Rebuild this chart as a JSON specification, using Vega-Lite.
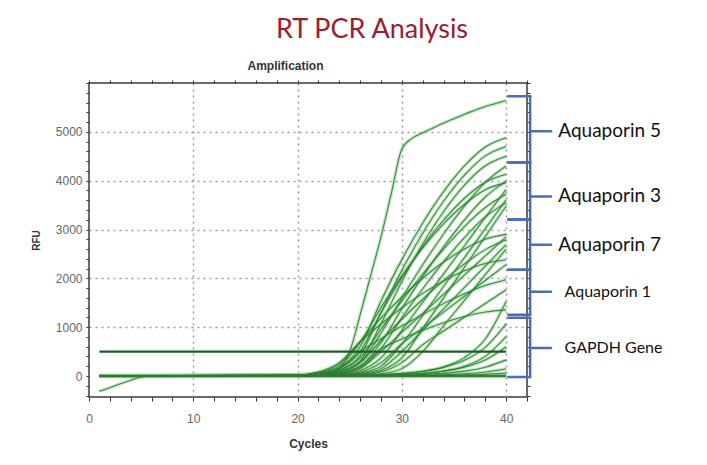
{
  "$schema": "https://vega.github.io/schema/vega-lite/v6.json",
  "width": 438,
  "height": 314,
  "autosize": {"type": "none"},
  "padding": {"left": 89, "top": 83, "right": 180, "bottom": 68},
  "background": "white",
  "title": {"text": "RT PCR Analysis", "font": "Lato", "fontSize": 27, "fontWeight": "normal", "color": "#9b1c31", "anchor": "middle", "frame": "group", "dx": 64, "offset": 15},
  "config": {"view": {"stroke": "#3a3a3a", "strokeWidth": 1.5}},
  "data": {"values": [
    {"s":"S","x":1,"y":0},{"s":"S","x":20,"y":0},{"s":"S","x":21,"y":5},{"s":"S","x":22,"y":10},{"s":"S","x":23,"y":40},{"s":"S","x":24,"y":150},{"s":"S","x":25,"y":500},{"s":"S","x":26,"y":1250},{"s":"S","x":27,"y":2050},{"s":"S","x":28,"y":2850},{"s":"S","x":29,"y":3750},{"s":"S","x":30,"y":4650},{"s":"S","x":31,"y":4870},{"s":"S","x":32,"y":4980},{"s":"S","x":33,"y":5080},{"s":"S","x":34,"y":5180},{"s":"S","x":35,"y":5270},{"s":"S","x":36,"y":5360},{"s":"S","x":37,"y":5440},{"s":"S","x":38,"y":5520},{"s":"S","x":39,"y":5580},{"s":"S","x":40,"y":5640},
    {"s":"A1","x":1,"y":0},{"s":"A1","x":20,"y":15},{"s":"A1","x":22,"y":51},{"s":"A1","x":24,"y":170},{"s":"A1","x":26,"y":598},{"s":"A1","x":28,"y":1534},{"s":"A1","x":30,"y":2383},{"s":"A1","x":32,"y":3132},{"s":"A1","x":34,"y":3776},{"s":"A1","x":36,"y":4302},{"s":"A1","x":38,"y":4689},{"s":"A1","x":40,"y":4880},
    {"s":"A2","x":1,"y":0},{"s":"A2","x":20,"y":11},{"s":"A2","x":22,"y":38},{"s":"A2","x":24,"y":126},{"s":"A2","x":26,"y":418},{"s":"A2","x":28,"y":1302},{"s":"A2","x":30,"y":2163},{"s":"A2","x":32,"y":2923},{"s":"A2","x":34,"y":3579},{"s":"A2","x":36,"y":4112},{"s":"A2","x":38,"y":4507},{"s":"A2","x":40,"y":4700},
    {"s":"A3","x":1,"y":0},{"s":"A3","x":20,"y":8},{"s":"A3","x":22,"y":28},{"s":"A3","x":24,"y":93},{"s":"A3","x":26,"y":309},{"s":"A3","x":28,"y":1068},{"s":"A3","x":30,"y":1936},{"s":"A3","x":32,"y":2704},{"s":"A3","x":34,"y":3364},{"s":"A3","x":36,"y":3908},{"s":"A3","x":38,"y":4304},{"s":"A3","x":40,"y":4500},
    {"s":"A4","x":1,"y":0},{"s":"A4","x":20,"y":7},{"s":"A4","x":22,"y":25},{"s":"A4","x":24,"y":83},{"s":"A4","x":26,"y":274},{"s":"A4","x":28,"y":876},{"s":"A4","x":30,"y":1598},{"s":"A4","x":32,"y":2278},{"s":"A4","x":34,"y":2909},{"s":"A4","x":36,"y":3479},{"s":"A4","x":38,"y":3966},{"s":"A4","x":40,"y":4300},
    {"s":"B1","x":1,"y":0},{"s":"B1","x":20,"y":14},{"s":"B1","x":22,"y":45},{"s":"B1","x":24,"y":151},{"s":"B1","x":26,"y":500},{"s":"B1","x":28,"y":1295},{"s":"B1","x":30,"y":2014},{"s":"B1","x":32,"y":2649},{"s":"B1","x":34,"y":3190},{"s":"B1","x":36,"y":3640},{"s":"B1","x":38,"y":3967},{"s":"B1","x":40,"y":4130},
    {"s":"B2","x":1,"y":0},{"s":"B2","x":20,"y":5},{"s":"B2","x":22,"y":18},{"s":"B2","x":24,"y":61},{"s":"B2","x":26,"y":203},{"s":"B2","x":28,"y":681},{"s":"B2","x":30,"y":1379},{"s":"B2","x":32,"y":2036},{"s":"B2","x":34,"y":2646},{"s":"B2","x":36,"y":3198},{"s":"B2","x":38,"y":3665},{"s":"B2","x":40,"y":3990},
    {"s":"B3","x":1,"y":0},{"s":"B3","x":20,"y":18},{"s":"B3","x":22,"y":61},{"s":"B3","x":24,"y":203},{"s":"B3","x":26,"y":687},{"s":"B3","x":28,"y":1403},{"s":"B3","x":30,"y":2050},{"s":"B3","x":32,"y":2624},{"s":"B3","x":34,"y":3116},{"s":"B3","x":36,"y":3517},{"s":"B3","x":38,"y":3815},{"s":"B3","x":40,"y":3960},
    {"s":"B4","x":1,"y":0},{"s":"B4","x":20,"y":3},{"s":"B4","x":22,"y":10},{"s":"B4","x":24,"y":34},{"s":"B4","x":26,"y":112},{"s":"B4","x":28,"y":370},{"s":"B4","x":30,"y":933},{"s":"B4","x":32,"y":1511},{"s":"B4","x":34,"y":2090},{"s":"B4","x":36,"y":2667},{"s":"B4","x":38,"y":3245},{"s":"B4","x":40,"y":3820},
    {"s":"B5","x":1,"y":0},{"s":"B5","x":20,"y":10},{"s":"B5","x":22,"y":34},{"s":"B5","x":24,"y":112},{"s":"B5","x":26,"y":370},{"s":"B5","x":28,"y":957},{"s":"B5","x":30,"y":1540},{"s":"B5","x":32,"y":2087},{"s":"B5","x":34,"y":2599},{"s":"B5","x":36,"y":3060},{"s":"B5","x":38,"y":3450},{"s":"B5","x":40,"y":3720},
    {"s":"B6","x":1,"y":0},{"s":"B6","x":20,"y":2},{"s":"B6","x":22,"y":5},{"s":"B6","x":24,"y":18},{"s":"B6","x":26,"y":61},{"s":"B6","x":28,"y":203},{"s":"B6","x":30,"y":648},{"s":"B6","x":32,"y":1240},{"s":"B6","x":34,"y":1833},{"s":"B6","x":36,"y":2425},{"s":"B6","x":38,"y":3017},{"s":"B6","x":40,"y":3610},
    {"s":"B7","x":1,"y":0},{"s":"B7","x":20,"y":4},{"s":"B7","x":22,"y":15},{"s":"B7","x":24,"y":51},{"s":"B7","x":26,"y":170},{"s":"B7","x":28,"y":564},{"s":"B7","x":30,"y":1195},{"s":"B7","x":32,"y":1787},{"s":"B7","x":34,"y":2336},{"s":"B7","x":36,"y":2836},{"s":"B7","x":38,"y":3257},{"s":"B7","x":40,"y":3550},
    {"s":"B8","x":1,"y":0},{"s":"B8","x":20,"y":1},{"s":"B8","x":22,"y":3},{"s":"B8","x":24,"y":10},{"s":"B8","x":26,"y":34},{"s":"B8","x":28,"y":112},{"s":"B8","x":30,"y":370},{"s":"B8","x":32,"y":971},{"s":"B8","x":34,"y":1599},{"s":"B8","x":36,"y":2227},{"s":"B8","x":38,"y":2855},{"s":"B8","x":40,"y":3480},
    {"s":"C1","x":1,"y":0},{"s":"C1","x":20,"y":22},{"s":"C1","x":22,"y":73},{"s":"C1","x":24,"y":243},{"s":"C1","x":26,"y":704},{"s":"C1","x":28,"y":1184},{"s":"C1","x":30,"y":1618},{"s":"C1","x":32,"y":2002},{"s":"C1","x":34,"y":2334},{"s":"C1","x":36,"y":2602},{"s":"C1","x":38,"y":2802},{"s":"C1","x":40,"y":2900},
    {"s":"C2","x":1,"y":0},{"s":"C2","x":20,"y":4},{"s":"C2","x":22,"y":14},{"s":"C2","x":24,"y":45},{"s":"C2","x":26,"y":151},{"s":"C2","x":28,"y":500},{"s":"C2","x":30,"y":892},{"s":"C2","x":32,"y":1283},{"s":"C2","x":34,"y":1675},{"s":"C2","x":36,"y":2067},{"s":"C2","x":38,"y":2458},{"s":"C2","x":40,"y":2850},
    {"s":"C3","x":1,"y":0},{"s":"C3","x":20,"y":7},{"s":"C3","x":22,"y":25},{"s":"C3","x":24,"y":83},{"s":"C3","x":26,"y":274},{"s":"C3","x":28,"y":727},{"s":"C3","x":30,"y":1162},{"s":"C3","x":32,"y":1572},{"s":"C3","x":34,"y":1952},{"s":"C3","x":36,"y":2295},{"s":"C3","x":38,"y":2588},{"s":"C3","x":40,"y":2790},
    {"s":"C4","x":1,"y":0},{"s":"C4","x":20,"y":0},{"s":"C4","x":22,"y":4},{"s":"C4","x":24,"y":14},{"s":"C4","x":26,"y":45},{"s":"C4","x":28,"y":151},{"s":"C4","x":30,"y":500},{"s":"C4","x":32,"y":938},{"s":"C4","x":34,"y":1376},{"s":"C4","x":36,"y":1814},{"s":"C4","x":38,"y":2252},{"s":"C4","x":40,"y":2690},
    {"s":"C5","x":1,"y":0},{"s":"C5","x":20,"y":0},{"s":"C5","x":22,"y":1},{"s":"C5","x":24,"y":4},{"s":"C5","x":26,"y":14},{"s":"C5","x":28,"y":45},{"s":"C5","x":30,"y":151},{"s":"C5","x":32,"y":500},{"s":"C5","x":34,"y":1025},{"s":"C5","x":36,"y":1550},{"s":"C5","x":38,"y":2075},{"s":"C5","x":40,"y":2600},
    {"s":"C6","x":1,"y":0},{"s":"C6","x":20,"y":25},{"s":"C6","x":22,"y":83},{"s":"C6","x":24,"y":274},{"s":"C6","x":26,"y":697},{"s":"C6","x":28,"y":1064},{"s":"C6","x":30,"y":1397},{"s":"C6","x":32,"y":1692},{"s":"C6","x":34,"y":1946},{"s":"C6","x":36,"y":2153},{"s":"C6","x":38,"y":2305},{"s":"C6","x":40,"y":2380},
    {"s":"C7","x":1,"y":0},{"s":"C7","x":20,"y":1},{"s":"C7","x":22,"y":7},{"s":"C7","x":24,"y":25},{"s":"C7","x":26,"y":83},{"s":"C7","x":28,"y":274},{"s":"C7","x":30,"y":662},{"s":"C7","x":32,"y":985},{"s":"C7","x":34,"y":1309},{"s":"C7","x":36,"y":1633},{"s":"C7","x":38,"y":1956},{"s":"C7","x":40,"y":2280},
    {"s":"D1","x":1,"y":0},{"s":"D1","x":20,"y":14},{"s":"D1","x":22,"y":45},{"s":"D1","x":24,"y":151},{"s":"D1","x":26,"y":500},{"s":"D1","x":28,"y":766},{"s":"D1","x":30,"y":1022},{"s":"D1","x":32,"y":1260},{"s":"D1","x":34,"y":1482},{"s":"D1","x":36,"y":1682},{"s":"D1","x":38,"y":1852},{"s":"D1","x":40,"y":1970},
    {"s":"D2","x":1,"y":0},{"s":"D2","x":20,"y":0},{"s":"D2","x":22,"y":2},{"s":"D2","x":24,"y":7},{"s":"D2","x":26,"y":25},{"s":"D2","x":28,"y":83},{"s":"D2","x":30,"y":274},{"s":"D2","x":32,"y":641},{"s":"D2","x":34,"y":922},{"s":"D2","x":36,"y":1203},{"s":"D2","x":38,"y":1484},{"s":"D2","x":40,"y":1765},
    {"s":"D3","x":1,"y":0},{"s":"D3","x":20,"y":1},{"s":"D3","x":22,"y":3},{"s":"D3","x":24,"y":6},{"s":"D3","x":26,"y":11},{"s":"D3","x":28,"y":23},{"s":"D3","x":30,"y":46},{"s":"D3","x":32,"y":93},{"s":"D3","x":34,"y":187},{"s":"D3","x":36,"y":376},{"s":"D3","x":38,"y":757},{"s":"D3","x":40,"y":1525},
    {"s":"D4","x":1,"y":0},{"s":"D4","x":20,"y":5},{"s":"D4","x":22,"y":18},{"s":"D4","x":24,"y":61},{"s":"D4","x":26,"y":203},{"s":"D4","x":28,"y":554},{"s":"D4","x":30,"y":757},{"s":"D4","x":32,"y":936},{"s":"D4","x":34,"y":1090},{"s":"D4","x":36,"y":1217},{"s":"D4","x":38,"y":1309},{"s":"D4","x":40,"y":1355},
    {"s":"E1","x":1,"y":0},{"s":"E1","x":20,"y":3},{"s":"E1","x":22,"y":5},{"s":"E1","x":24,"y":9},{"s":"E1","x":26,"y":16},{"s":"E1","x":28,"y":29},{"s":"E1","x":30,"y":53},{"s":"E1","x":32,"y":97},{"s":"E1","x":34,"y":176},{"s":"E1","x":36,"y":321},{"s":"E1","x":38,"y":586},{"s":"E1","x":40,"y":1068},
    {"s":"E2","x":1,"y":0},{"s":"E2","x":20,"y":0},{"s":"E2","x":22,"y":1},{"s":"E2","x":24,"y":3},{"s":"E2","x":26,"y":6},{"s":"E2","x":28,"y":12},{"s":"E2","x":30,"y":24},{"s":"E2","x":32,"y":49},{"s":"E2","x":34,"y":99},{"s":"E2","x":36,"y":199},{"s":"E2","x":38,"y":401},{"s":"E2","x":40,"y":807},
    {"s":"E3","x":1,"y":0},{"s":"E3","x":20,"y":1},{"s":"E3","x":22,"y":3},{"s":"E3","x":24,"y":5},{"s":"E3","x":26,"y":9},{"s":"E3","x":28,"y":16},{"s":"E3","x":30,"y":30},{"s":"E3","x":32,"y":54},{"s":"E3","x":34,"y":99},{"s":"E3","x":36,"y":181},{"s":"E3","x":38,"y":329},{"s":"E3","x":40,"y":600},
    {"s":"E4","x":1,"y":0},{"s":"E4","x":20,"y":1},{"s":"E4","x":22,"y":1},{"s":"E4","x":24,"y":3},{"s":"E4","x":26,"y":5},{"s":"E4","x":28,"y":9},{"s":"E4","x":30,"y":16},{"s":"E4","x":32,"y":30},{"s":"E4","x":34,"y":54},{"s":"E4","x":36,"y":99},{"s":"E4","x":38,"y":181},{"s":"E4","x":40,"y":330},
    {"s":"E5","x":1,"y":0},{"s":"E5","x":20,"y":0},{"s":"E5","x":22,"y":0},{"s":"E5","x":24,"y":1},{"s":"E5","x":26,"y":2},{"s":"E5","x":28,"y":4},{"s":"E5","x":30,"y":7},{"s":"E5","x":32,"y":14},{"s":"E5","x":34,"y":25},{"s":"E5","x":36,"y":45},{"s":"E5","x":38,"y":82},{"s":"E5","x":40,"y":150},
    {"s":"E6","x":1,"y":0},{"s":"E6","x":20,"y":0},{"s":"E6","x":22,"y":0},{"s":"E6","x":24,"y":0},{"s":"E6","x":26,"y":1},{"s":"E6","x":28,"y":2},{"s":"E6","x":30,"y":3},{"s":"E6","x":32,"y":5},{"s":"E6","x":34,"y":10},{"s":"E6","x":36,"y":18},{"s":"E6","x":38,"y":33},{"s":"E6","x":40,"y":60},
    {"s":"F1","x":1,"y":0},{"s":"F1","x":40,"y":0},
    {"s":"F2","x":1,"y":15},{"s":"F2","x":40,"y":15},
    {"s":"F3","x":1,"y":-12},{"s":"F3","x":40,"y":-8},
    {"s":"N","x":1,"y":-310},{"s":"N","x":2,"y":-240},{"s":"N","x":3,"y":-160},{"s":"N","x":4,"y":-85},{"s":"N","x":5,"y":-20},{"s":"N","x":6,"y":0},{"s":"N","x":40,"y":0}
  ]},
  "layer": [
    {
      "mark": {"type": "line", "interpolate": "monotone", "stroke": "#8fd48f", "strokeWidth": 3.5, "opacity": 0.5},
      "encoding": {
        "x": {"field": "x", "type": "quantitative", "scale": {"domain": [0, 42], "nice": false, "zero": false},
          "axis": {"orient": "top", "values": [0,2,4,6,8,10,12,14,16,18,20,22,24,26,28,30,32,34,36,38,40,42], "labels": false, "grid": false, "domain": false, "tickSize": 3, "tickColor": "#333", "title": "Amplification", "titleFont": "Liberation Sans", "titleFontSize": 12, "titleFontWeight": "bold", "titleColor": "#333", "titleX": 196, "titleY": -18, "titleBaseline": "middle"}},
        "y": {"field": "y", "type": "quantitative", "scale": {"domain": [-430, 6000], "nice": false, "zero": false},
          "axis": {"orient": "right", "values": [-400,-200,0,200,400,600,800,1000,1200,1400,1600,1800,2000,2200,2400,2600,2800,3000,3200,3400,3600,3800,4000,4200,4400,4600,4800,5000,5200,5400,5600,5800,6000], "labels": false, "grid": false, "domain": false, "tickSize": 3, "tickColor": "#333", "title": null}},
        "detail": {"field": "s"}
      }
    },
    {
      "mark": {"type": "line", "interpolate": "monotone", "stroke": "#2e7d32", "strokeWidth": 1.1, "opacity": 0.9},
      "encoding": {
        "x": {"field": "x", "type": "quantitative", "scale": {"domain": [0, 42], "nice": false, "zero": false},
          "axis": {"orient": "bottom", "values": [0,2,4,6,8,10,12,14,16,18,20,22,24,26,28,30,32,34,36,38,40,42], "format": "d", "labelExpr": "datum.value % 10 === 0 ? datum.label : ''", "labelOverlap": false, "labelFlush": false, "labelFont": "'Liberation Sans Narrow', 'Liberation Sans', sans-serif", "labelFontSize": 12, "labelColor": "#666", "labelPadding": 12, "tickSize": 4, "tickColor": "#333", "domain": false, "grid": true, "gridDash": [2, 4], "gridColor": "#9a9a9a", "gridWidth": 1.5, "gridOpacity": {"condition": {"test": "datum.value % 10 === 0 && datum.value > 0 && datum.value < 42", "value": 1}, "value": 0}, "title": "Cycles", "titleFont": "Liberation Sans", "titleFontSize": 12, "titleFontWeight": "bold", "titleColor": "#333", "titlePadding": 14}},
        "y": {"field": "y", "type": "quantitative", "scale": {"domain": [-430, 6000], "nice": false, "zero": false},
          "axis": {"orient": "left", "values": [-400,-200,0,200,400,600,800,1000,1200,1400,1600,1800,2000,2200,2400,2600,2800,3000,3200,3400,3600,3800,4000,4200,4400,4600,4800,5000,5200,5400,5600,5800,6000], "format": "d", "labelExpr": "datum.value % 1000 === 0 && datum.value < 6000 ? datum.label : ''", "labelOverlap": false, "labelFlush": false, "labelFont": "'Liberation Sans Narrow', 'Liberation Sans', sans-serif", "labelFontSize": 12, "labelColor": "#666", "labelPadding": 4, "tickSize": 3, "tickColor": "#333", "domain": false, "grid": true, "gridDash": [2, 4], "gridColor": "#9a9a9a", "gridWidth": 1.5, "gridOpacity": {"condition": {"test": "datum.value % 1000 === 0 && datum.value > 0 && datum.value < 6000", "value": 1}, "value": 0}, "title": "RFU", "titleFont": "Liberation Sans", "titleFontSize": 10, "titleFontWeight": "bold", "titleColor": "#333", "titlePadding": 14}},
        "detail": {"field": "s"}
      }
    },
    {
      "data": {"values": [{"threshold": 500}]},
      "mark": {"type": "rule", "stroke": "#1e5e22", "strokeWidth": 2.4},
      "encoding": {
        "x": {"datum": 1, "type": "quantitative", "scale": {"domain": [0, 42], "nice": false, "zero": false}, "axis": null},
        "x2": {"datum": 40},
        "y": {"field": "threshold", "type": "quantitative", "scale": {"domain": [-430, 6000], "nice": false, "zero": false}, "axis": null}
      }
    },
    {
      "data": {"name": "braces", "values": [
        {"g": "Aquaporin 5", "lo": 4374, "hi": 5730, "mid": 5010},
        {"g": "Aquaporin 3", "lo": 3203, "hi": 4374, "mid": 3676},
        {"g": "Aquaporin 7", "lo": 2177, "hi": 3203, "mid": 2690},
        {"g": "Aquaporin 1", "lo": 1253, "hi": 2177, "mid": 1725},
        {"g": "GAPDH Gene", "lo": -20, "hi": 1191, "mid": 575}
      ]},
      "layer": [
        {
          "mark": {"type": "rule", "stroke": "#4a6db5", "strokeWidth": 2.5, "strokeCap": "round"},
          "encoding": {
            "x": {"datum": 42.3, "type": "quantitative", "scale": {"domain": [0, 42], "nice": false, "zero": false}, "axis": null},
            "y": {"field": "lo", "type": "quantitative", "scale": {"domain": [-430, 6000], "nice": false, "zero": false}, "axis": null},
            "y2": {"field": "hi"}
          }
        },
        {
          "mark": {"type": "rule", "stroke": "#4a6db5", "strokeWidth": 2.5, "strokeCap": "round"},
          "encoding": {
            "x": {"datum": 40.2, "type": "quantitative", "scale": {"domain": [0, 42], "nice": false, "zero": false}, "axis": null},
            "x2": {"datum": 42.3},
            "y": {"field": "hi", "type": "quantitative", "scale": {"domain": [-430, 6000], "nice": false, "zero": false}, "axis": null}
          }
        },
        {
          "mark": {"type": "rule", "stroke": "#4a6db5", "strokeWidth": 2.5, "strokeCap": "round"},
          "encoding": {
            "x": {"datum": 40.2, "type": "quantitative", "scale": {"domain": [0, 42], "nice": false, "zero": false}, "axis": null},
            "x2": {"datum": 42.3},
            "y": {"field": "lo", "type": "quantitative", "scale": {"domain": [-430, 6000], "nice": false, "zero": false}, "axis": null}
          }
        },
        {
          "mark": {"type": "rule", "stroke": "#4a6db5", "strokeWidth": 2.5, "strokeCap": "round"},
          "encoding": {
            "x": {"datum": 42.3, "type": "quantitative", "scale": {"domain": [0, 42], "nice": false, "zero": false}, "axis": null},
            "x2": {"datum": 44.3},
            "y": {"field": "mid", "type": "quantitative", "scale": {"domain": [-430, 6000], "nice": false, "zero": false}, "axis": null}
          }
        },
        {
          "transform": [{"filter": "datum.g === 'Aquaporin 5' || datum.g === 'Aquaporin 3' || datum.g === 'Aquaporin 7'"}],
          "mark": {"type": "text", "align": "left", "baseline": "middle", "font": "Lato", "fontSize": 19, "color": "#111111"},
          "encoding": {
            "x": {"datum": 45.0, "type": "quantitative", "scale": {"domain": [0, 42], "nice": false, "zero": false}, "axis": null},
            "y": {"field": "mid", "type": "quantitative", "scale": {"domain": [-430, 6000], "nice": false, "zero": false}, "axis": null},
            "text": {"field": "g"}
          }
        },
        {
          "transform": [{"filter": "datum.g === 'Aquaporin 1' || datum.g === 'GAPDH Gene'"}],
          "mark": {"type": "text", "align": "left", "baseline": "middle", "font": "Lato", "fontSize": 16, "color": "#111111"},
          "encoding": {
            "x": {"datum": 45.6, "type": "quantitative", "scale": {"domain": [0, 42], "nice": false, "zero": false}, "axis": null},
            "y": {"field": "mid", "type": "quantitative", "scale": {"domain": [-430, 6000], "nice": false, "zero": false}, "axis": null},
            "text": {"field": "g"}
          }
        }
      ]
    }
  ],
  "resolve": {"axis": {"x": "independent", "y": "independent"}}
}
